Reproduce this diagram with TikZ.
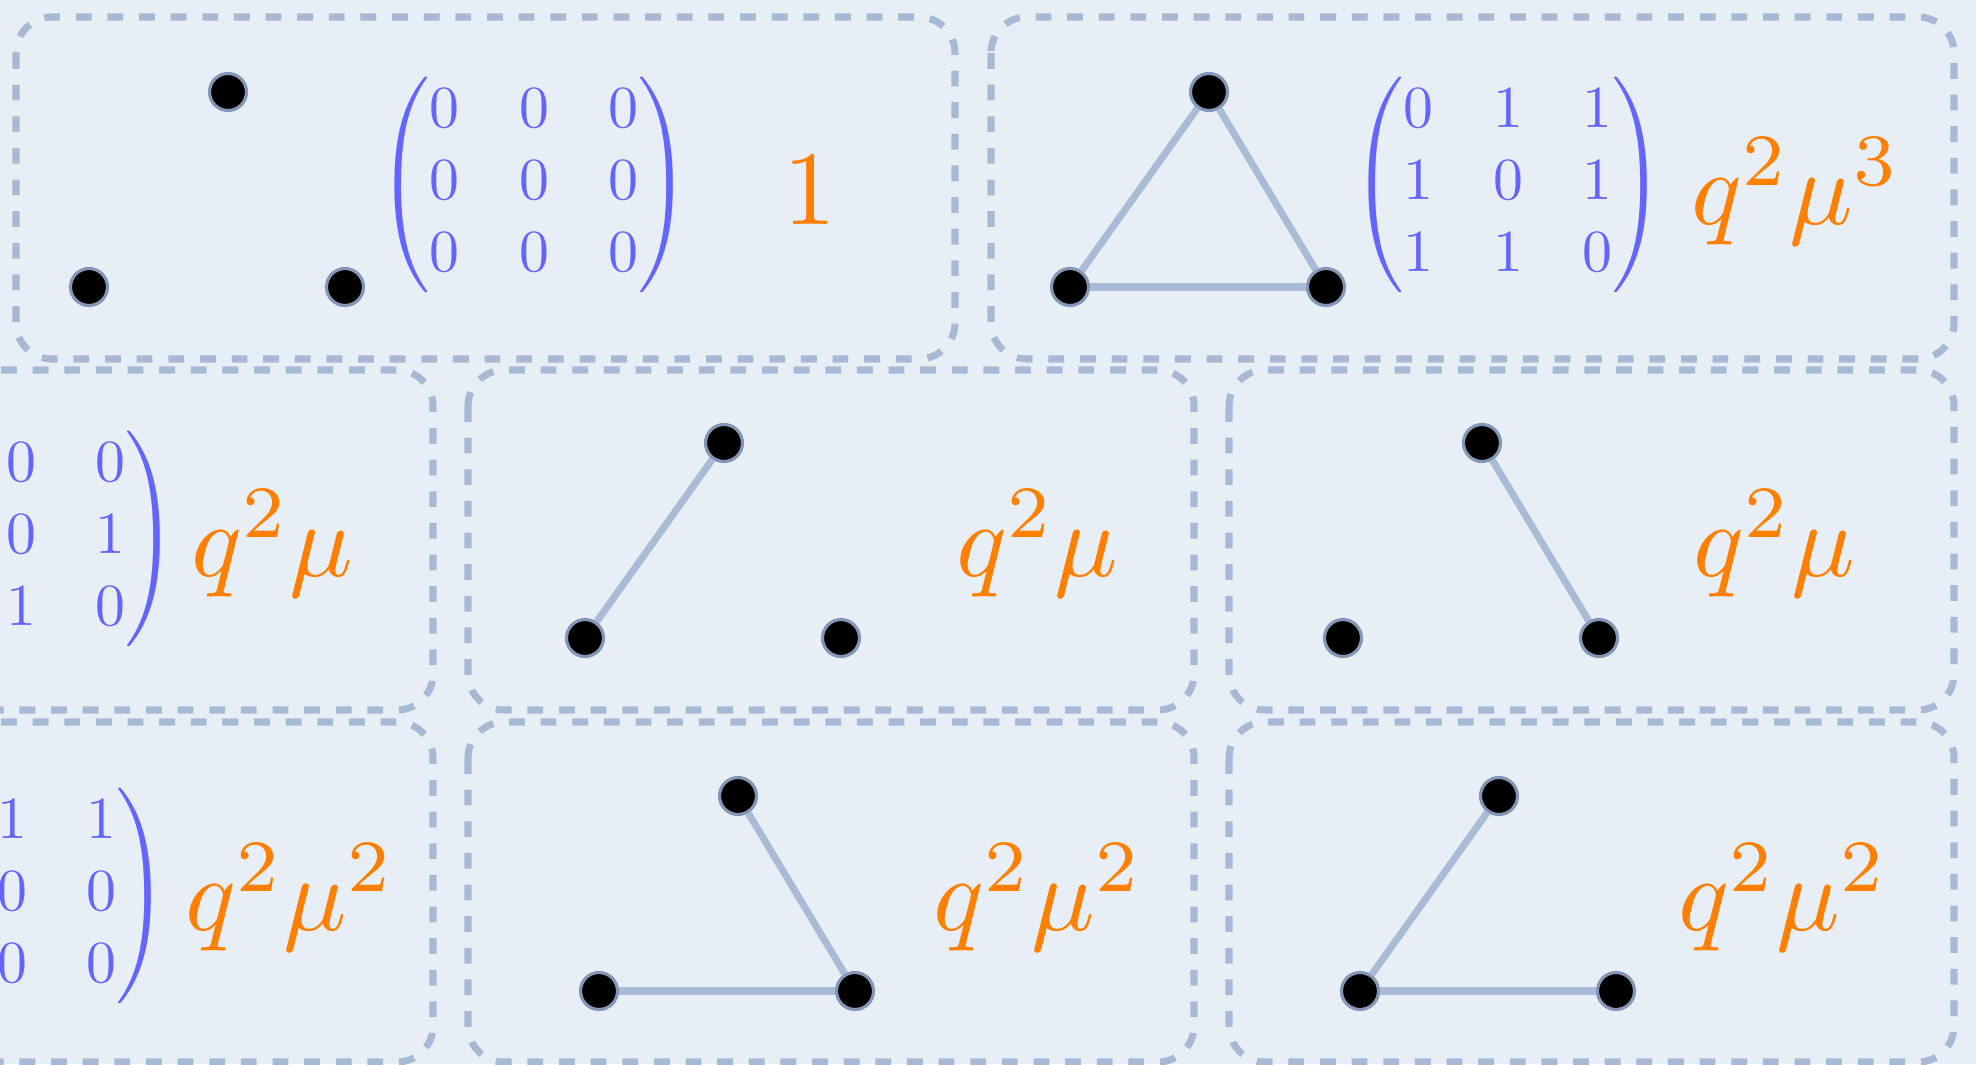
\documentclass[tikz,border=0pt]{standalone}
\usepackage{amsmath,amssymb}
\usepackage{xcolor}
\usepackage{tikz}
\usetikzlibrary{calc}
\definecolor{paper}{HTML}{E8EEF6}
\definecolor{frame}{HTML}{A8B9D5}
\definecolor{edgeblue}{HTML}{A9BBD7}
\definecolor{ring}{HTML}{8396B6}
\definecolor{matblue}{HTML}{6464FF}
\definecolor{wt}{HTML}{FF8000}
\tikzset{
  panel/.style={draw=frame,line width=2pt,dash pattern=on 4.5pt off 4.5pt,rounded corners=0.36cm},
  vtx/.style={circle,fill=black,draw=ring,line width=0.9pt,minimum size=0.37cm,inner sep=0pt},
  link/.style={edgeblue,line width=2pt},
  adj/.style={matblue,scale=1.7,inner sep=0pt},
  weight/.style={wt,scale=3,inner sep=0pt,anchor=base},
}
\newcommand{\panel}[4]{\draw[panel] (#1,#2) rectangle (#3,#4);}
\newcommand{\vertset}[3]{% #1l, #1r, #1t with bottom left at (#2,#3)
  \node[vtx] (#1l) at (#2,#3) {};
  \node[vtx] (#1r) at ($(#2,#3)+(2.56,0)$) {};
  \node[vtx] (#1t) at ($(#2,#3)+(1.39,1.95)$) {};
}

\begin{document}
\begin{tikzpicture}
\useasboundingbox (0,0) rectangle (19.76,10.64);
\clip (0,0) rectangle (19.76,10.64);
\fill[paper] (0,0) rectangle (19.76,10.64);
% frames
\panel{0.16}{10.47}{9.55}{7.05}
\panel{9.91}{10.47}{19.54}{7.05}
\panel{-2.93}{6.94}{4.33}{3.54}
\panel{4.68}{6.94}{11.94}{3.54}
\panel{12.29}{6.94}{19.54}{3.54}
\panel{-2.93}{3.42}{4.33}{0.02}
\panel{4.68}{3.42}{11.94}{0.02}
\panel{12.29}{3.42}{19.54}{0.02}
% graphs
\vertset{a}{0.89}{7.77}
\vertset{b}{10.70}{7.77}
\vertset{c}{5.85}{4.26}
\vertset{d}{13.43}{4.26}
\vertset{e}{5.99}{0.73}
\vertset{f}{13.60}{0.73}
\draw[link] (bl) -- (bt);
\draw[link] (bt) -- (br);
\draw[link] (bl) -- (br);
\draw[link] (cl) -- (ct);
\draw[link] (dt) -- (dr);
\draw[link] (et) -- (er);
\draw[link] (el) -- (er);
\draw[link] (fl) -- (ft);
\draw[link] (fl) -- (fr);
% adjacency matrices
\node[adj] (ma) at (5.34,8.79) {$\begin{pmatrix}0&0&0\\0&0&0\\0&0&0\end{pmatrix}$};
\node[adj] (mb) at (15.08,8.79) {$\begin{pmatrix}0&1&1\\1&0&1\\1&1&0\end{pmatrix}$};
\node[adj,anchor=east] (mc) at (1.79,5.25) {$\left.\begin{matrix}0&0\\0&1\\1&0\end{matrix}\right)$};
\node[adj,anchor=east] (md) at (1.70,1.68) {$\left.\begin{matrix}1&1\\0&0\\0&0\end{matrix}\right)$};
% weights
\node[weight] (wa) at (8.10,8.40) {$1$};
\node[weight] (wb) at (17.96,8.40) {$q^2\mu^3$};
\node[weight] (wc) at (2.72,4.88) {$q^2\mu$};
\node[weight] (wd) at (10.37,4.88) {$q^2\mu$};
\node[weight] (we) at (17.74,4.88) {$q^2\mu$};
\node[weight] (wf) at (2.90,1.34) {$q^2\mu^2$};
\node[weight] (wg) at (10.38,1.34) {$q^2\mu^2$};
\node[weight] (wh) at (17.83,1.34) {$q^2\mu^2$};
\end{tikzpicture}
\end{document}
